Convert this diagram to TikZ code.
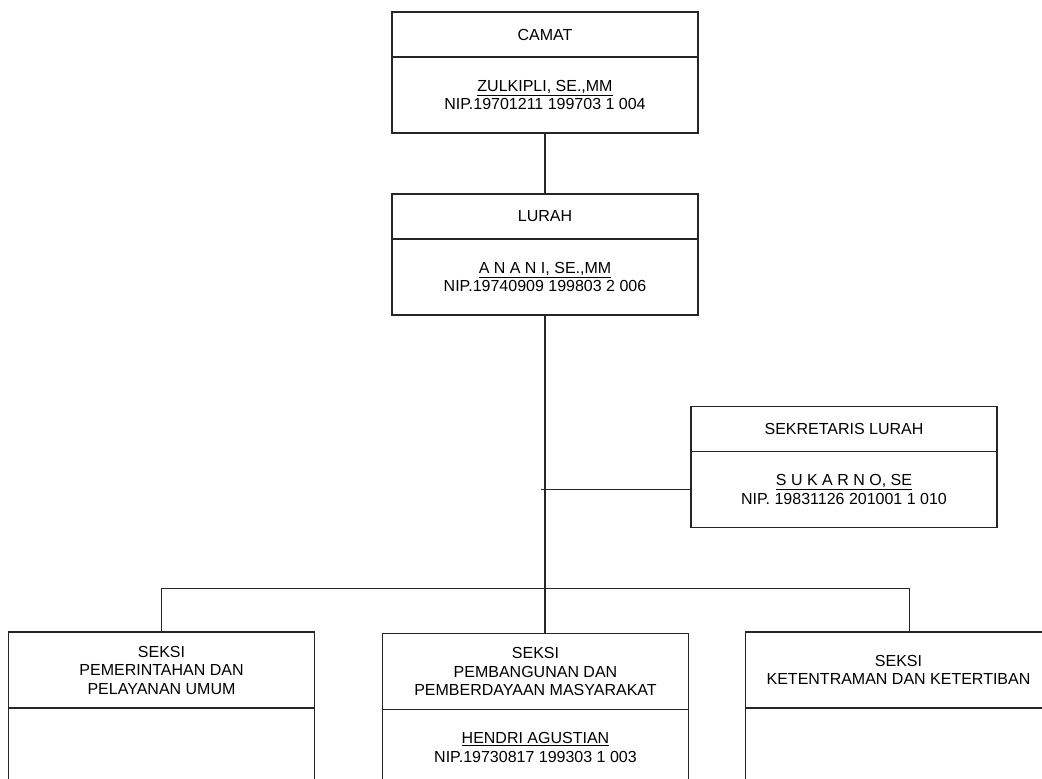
\documentclass[tikz,border=0pt]{standalone}
\usepackage{fontspec}
\setmainfont{Liberation Sans}
\usetikzlibrary{positioning}

\tikzset{
  head/.style={draw=black!85,line width=1.5pt,text=black,minimum width=306pt,minimum height=45pt,
    inner sep=0pt,outer sep=0pt,align=center,font=\fontsize{16}{18.5}\selectfont},
  body/.style={head,minimum height=76pt},
  link/.style={draw=black!85,line width=1.5pt}
}

\begin{document}
\begin{tikzpicture}[x=1pt,y=-1pt]
  \useasboundingbox (0,0) rectangle (1042,779);
  \clip (0,0) rectangle (1042,779);

  % pimpinan
  \node[head] (camat) at (545,34.5) {CAMAT};
  \node[body,below=0pt of camat] (camatbody) {\underline{ZULKIPLI, SE.,MM}\\NIP.19701211 199703 1 004};
  \node[head] (lurah) at (545,216.5) {LURAH};
  \node[body,below=0pt of lurah] (lurahbody) {\underline{A N A N I, SE.,MM}\\NIP.19740909 199803 2 006};

  % sekretaris
  \node[head] (sekretaris) at (844,429) {SEKRETARIS LURAH};
  \node[body,below=0pt of sekretaris] (sekretarisbody) {\underline{S U K A R N O, SE}\\NIP. 19831126 201001 1 010};

  % seksi
  \node[body] (pemerintahan) at (161.5,670) {SEKSI\\PEMERINTAHAN DAN\\PELAYANAN UMUM};
  \node[body,below=0pt of pemerintahan] (pemerintahanbody) {};
  \node[body] (pembangunan) at (535.5,671.5) {SEKSI\\PEMBANGUNAN DAN\\PEMBERDAYAAN MASYARAKAT};
  \node[body,below=0pt of pembangunan] (pembangunanbody) {\underline{HENDRI AGUSTIAN}\\NIP.19730817 199303 1 003};
  \node[body] (ketentraman) at (898.5,670) {SEKSI\\KETENTRAMAN DAN KETERTIBAN};
  \node[body,below=0pt of ketentraman] (ketentramanbody) {};

  % garis
  \coordinate (bus) at (0,588.5);
  \coordinate (k3) at ([xshift=11pt]ketentraman.north);
  \draw[link] (camatbody.south) -- (lurah.north);
  \draw[link] (lurahbody.south) -- (lurahbody.south |- pembangunan.north);
  \draw[link] (sekretarisbody.west) -- ([xshift=-4pt]sekretarisbody.west -| lurahbody.south);
  \draw[link] (pemerintahan.north) -- (pemerintahan.north |- bus) -- (k3 |- bus) -- (k3);
\end{tikzpicture}
\end{document}
